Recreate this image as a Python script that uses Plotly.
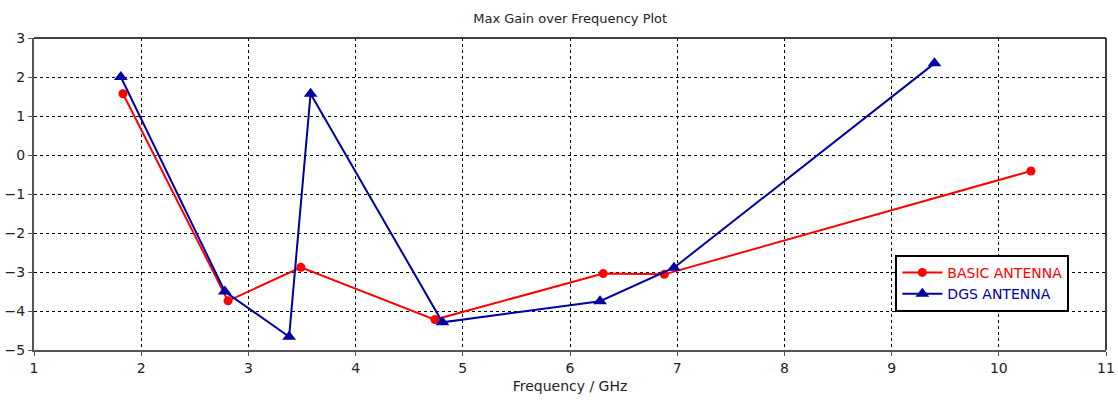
import plotly.graph_objects as go

# Max gain (dBi) vs. frequency (GHz) for the two antenna designs
basic_freq = [1.83, 2.81, 3.49, 4.74, 6.31, 6.88, 10.3]
basic_gain = [1.57, -3.74, -2.88, -4.22, -3.04, -3.06, -0.41]

dgs_freq = [1.81, 2.78, 3.38, 3.58, 4.81, 6.28, 6.97, 9.4]
dgs_gain = [2.0, -3.5, -4.66, 1.57, -4.29, -3.75, -2.89, 2.35]

x_ticks = list(range(1, 12))
y_ticks = list(range(-5, 4))

FONT = "DejaVu Sans"
RED = "#ff0000"
BLUE = "#0000a0"

fig = go.Figure()
fig.add_trace(go.Scatter(
    x=basic_freq, y=basic_gain, mode="lines+markers",
    name=f"<span style='color:{RED}'>BASIC ANTENNA</span>",
    line=dict(color=RED, width=2),
    marker=dict(symbol="circle", size=9, color=RED),
))
fig.add_trace(go.Scatter(
    x=dgs_freq, y=dgs_gain, mode="lines+markers",
    name=f"<span style='color:{BLUE}'>DGS ANTENNA</span>",
    line=dict(color=BLUE, width=2),
    marker=dict(symbol="triangle-up", size=12, color=BLUE),
))

axis_common = dict(
    showgrid=True, gridcolor="#000000", griddash="dot", gridwidth=1,
    zeroline=False, showline=True, linecolor="#555555", linewidth=2,
    ticks="outside", ticklen=4, tickcolor="#555555", automargin=False,
    tickfont=dict(family=FONT, size=14, color="#222222"),
)

fig.update_xaxes(range=[1, 11], tickvals=x_ticks, **axis_common,
                 title=dict(text="Frequency / GHz", standoff=6,
                            font=dict(family=FONT, size=14, color="#222222")))
fig.update_yaxes(range=[-5, 3], tickvals=y_ticks, **axis_common)

# thin black frame on top and right
fig.add_shape(type="line", xref="paper", yref="paper", x0=0, x1=1, y0=1, y1=1,
              line=dict(color="#000000", width=1.5))
fig.add_shape(type="line", xref="paper", yref="paper", x0=1, x1=1, y0=0, y1=1,
              line=dict(color="#000000", width=1.5))

fig.update_layout(
    width=1118, height=401,
    margin=dict(l=34, r=12, t=38, b=51),
    paper_bgcolor="white", plot_bgcolor="white",
    title=dict(text="Max Gain over Frequency Plot", x=0.51, xanchor="center",
               y=0.955, yanchor="middle",
               font=dict(family=FONT, size=13, color="#222222")),
    legend=dict(x=0.8035, y=0.305, xanchor="left", yanchor="top",
                bgcolor="white", bordercolor="#000000", borderwidth=2,
                font=dict(family=FONT, size=14), tracegroupgap=2,
                itemwidth=40),
    showlegend=True,
)

fig.write_html("out.html")
